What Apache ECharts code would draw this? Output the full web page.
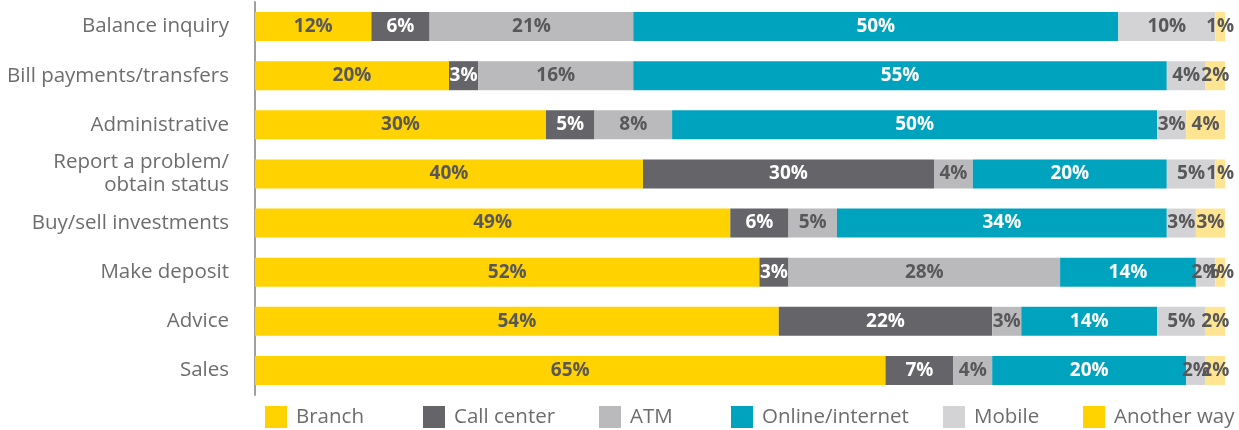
<!DOCTYPE html>
<html>
<head>
<meta charset="utf-8">
<script src="https://cdn.jsdelivr.net/npm/echarts@6/dist/echarts.min.js"></script>
<style>
  html, body { margin: 0; padding: 0; background: #fff; }
  #main { width: 1239px; height: 430px; }
</style>
</head>
<body>
<div id="main"></div>
<script>
var categories = ['Balance inquiry', 'Bill payments/transfers', 'Administrative',
  'Report a problem/\nobtain status', 'Buy/sell investments', 'Make deposit', 'Advice', 'Sales'];
var seriesNames = ['Branch', 'Call center', 'ATM', 'Online/internet', 'Mobile', 'Another way'];
var branch = [12, 20, 30, 40, 49, 52, 54, 65];
var callCenter = [6, 3, 5, 30, 6, 3, 22, 7];
var atm = [21, 16, 8, 4, 5, 28, 3, 4];
var online = [50, 55, 50, 20, 34, 14, 14, 20];
var mobile = [10, 4, 3, 5, 3, 2, 5, 2];
var another = [1, 2, 4, 1, 3, 1, 2, 2];

var colors = ['#FFD200', '#646469', '#BABABD', '#00A3BE', '#D3D3D5', '#FFE591'];
var labelColors = ['#58585A', '#fff', '#58585A', '#fff', '#58585A', '#58585A'];
var allData = [branch, callCenter, atm, online, mobile, another];

var myChart = echarts.init(document.getElementById('main'));

var series = seriesNames.map(function (name, i) {
  return {
    name: name,
    type: 'bar',
    stack: 'total',
    barWidth: 29,
    data: allData[i],
    itemStyle: { color: colors[i] },
    label: {
      show: true,
      position: 'inside',
      formatter: '{c}%',
      color: labelColors[i],
      fontFamily: 'Open Sans',
      fontWeight: 'bold',
      fontSize: 19
    }
  };
});

// legend positions (one legend per item, spacing is irregular in the original)
var legendLeft = [265, 423, 599, 731, 943, 1083];
var legends = seriesNames.map(function (name, i) {
  var item = { name: name };
  if (i === 5) item.itemStyle = { color: '#FFD200' }; // legend swatch is the full yellow
  return {
    data: [item],
    left: legendLeft[i],
    top: 406,
    padding: 0,
    itemWidth: 22,
    itemHeight: 22,
    itemGap: 0,
    icon: 'rect',
    selectedMode: false,
    textStyle: { fontFamily: 'Open Sans', fontSize: 20.5, color: '#6D6D70', padding: [0, 0, 0, 4] }
  };
});

var option = {
  animation: false,
  grid: { left: 255, right: 14, top: 2, bottom: 35 },
  legend: legends,
  xAxis: {
    type: 'value',
    min: 0,
    max: 100,
    show: false
  },
  yAxis: {
    type: 'category',
    inverse: true,
    data: categories,
    axisLine: { show: true, lineStyle: { color: '#A0A0A3', width: 2 } },
    axisTick: { show: false },
    axisLabel: {
      margin: 26,
      fontFamily: 'Open Sans',
      fontSize: 20.5,
      lineHeight: 23,
      color: '#6D6D70',
      align: 'right'
    }
  },
  series: series
};
myChart.setOption(option);
</script>
</body>
</html>
